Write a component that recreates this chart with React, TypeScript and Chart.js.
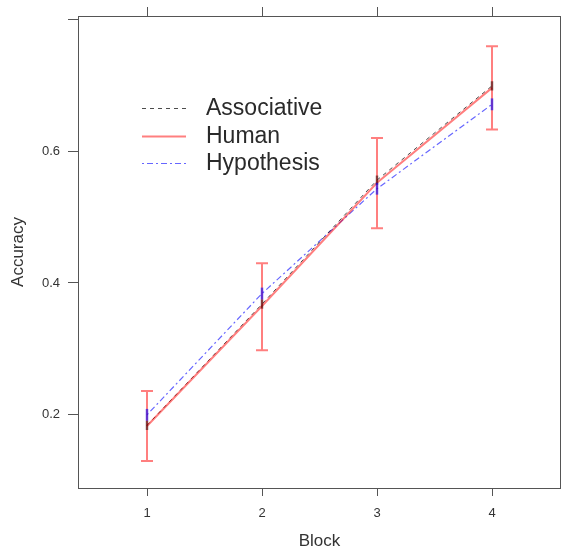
import React, { useEffect, useRef } from "react";
import { Chart, registerables } from "chart.js";

Chart.register(...registerables);

const blocks = [1, 2, 3, 4];
const humanMean = [0.183, 0.365, 0.552, 0.696];
const humanLow = [0.13, 0.298, 0.483, 0.633];
const humanHigh = [0.236, 0.43, 0.62, 0.759];
const assocMean = [0.184, 0.368, 0.556, 0.699];
const assocErr = [0.007, 0.007, 0.007, 0.007];
const hypoMean = [0.2, 0.384, 0.543, 0.671];
const hypoErr = [0.009, 0.009, 0.009, 0.009];
const xTicks = [1, 2, 3, 4];
const yTicks = [0.2, 0.4, 0.6, 0.8];
const yTickLabels = ["0.2", "0.4", "0.6", ""];
const legendLabels = ["Associative", "Human", "Hypothesis"];

const HUMAN_COLOR = "rgba(255,0,0,0.5)";
const ASSOC_COLOR = "rgba(0,0,0,0.7)";
const ASSOC_BAR = "rgba(40,0,0,0.55)";
const HYPO_COLOR = "rgba(0,0,255,0.6)";
const HYPO_BAR = "rgba(0,0,255,0.6)";
const AXIS_COLOR = "#555";
const TEXT_COLOR = "#333";
const FONT = "'Liberation Sans', Arial, Helvetica, sans-serif";

export default function App() {
  const ref = useRef<HTMLCanvasElement | null>(null);

  useEffect(() => {
    if (!ref.current) return;
    Chart.defaults.font.family = FONT;

    const pts = (ys: number[]) => blocks.map((b, i) => ({ x: b, y: ys[i] }));

    const errorBars = {
      id: "errorBars",
      afterDatasetsDraw(chart: any) {
        const { ctx, scales } = chart;
        const xs = scales.x;
        const ys = scales.y;
        ctx.save();
        ctx.strokeStyle = HUMAN_COLOR;
        ctx.lineWidth = 2;
        blocks.forEach((b, i) => {
          const px = xs.getPixelForValue(b);
          const lo = ys.getPixelForValue(humanLow[i]);
          const hi = ys.getPixelForValue(humanHigh[i]);
          ctx.beginPath();
          ctx.moveTo(px, lo);
          ctx.lineTo(px, hi);
          ctx.moveTo(px - 6, lo);
          ctx.lineTo(px + 6, lo);
          ctx.moveTo(px - 6, hi);
          ctx.lineTo(px + 6, hi);
          ctx.stroke();
        });
        const small = (mean: number[], err: number[], color: string) => {
          ctx.strokeStyle = color;
          ctx.lineWidth = 2.5;
          blocks.forEach((b, i) => {
            const px = xs.getPixelForValue(b);
            ctx.beginPath();
            ctx.moveTo(px, ys.getPixelForValue(mean[i] - err[i]));
            ctx.lineTo(px, ys.getPixelForValue(mean[i] + err[i]));
            ctx.stroke();
          });
        };
        small(assocMean, assocErr, ASSOC_BAR);
        small(hypoMean, hypoErr, HYPO_BAR);
        ctx.restore();
      },
    };

    const frameLegend = {
      id: "frameLegend",
      afterDraw(chart: any) {
        const { ctx, chartArea } = chart;
        ctx.save();
        ctx.strokeStyle = AXIS_COLOR;
        ctx.lineWidth = 1;
        const l = Math.round(chartArea.left) + 0.5;
        const t = Math.round(chartArea.top) + 0.5;
        const r = Math.round(chartArea.right) - 0.5;
        const b = Math.round(chartArea.bottom) + 0.5;
        ctx.strokeRect(l, t, r - l, b - t);

        const styles = [
          { color: ASSOC_COLOR, dash: [4, 4], width: 1 },
          { color: HUMAN_COLOR, dash: [], width: 2 },
          { color: HYPO_COLOR, dash: [2, 3, 6, 3], width: 1.2 },
        ];
        const rowY = [108, 136, 163];
        ctx.font = `23px ${FONT}`;
        ctx.textBaseline = "middle";
        ctx.textAlign = "left";
        legendLabels.forEach((lab, i) => {
          const s = styles[i];
          ctx.strokeStyle = s.color;
          ctx.lineWidth = s.width;
          ctx.setLineDash(s.dash);
          ctx.beginPath();
          ctx.moveTo(142, rowY[i] + 0.5);
          ctx.lineTo(186, rowY[i] + 0.5);
          ctx.stroke();
          ctx.setLineDash([]);
          ctx.fillStyle = "#2a2a2a";
          ctx.fillText(lab, 206, rowY[i] + 1);
        });
        ctx.restore();
      },
    };

    const chart = new Chart(ref.current, {
      type: "line",
      data: {
        datasets: [
          {
            label: "Human",
            data: pts(humanMean),
            borderColor: HUMAN_COLOR,
            borderWidth: 2,
            pointRadius: 0,
          },
          {
            label: "Associative",
            data: pts(assocMean),
            borderColor: ASSOC_COLOR,
            borderWidth: 1,
            borderDash: [4, 4],
            pointRadius: 0,
          },
          {
            label: "Hypothesis",
            data: pts(hypoMean),
            borderColor: HYPO_COLOR,
            borderWidth: 1.2,
            borderDash: [2, 3, 6, 3],
            pointRadius: 0,
          },
        ],
      },
      options: {
        responsive: false,
        animation: false,
        devicePixelRatio: 1,
        layout: { padding: { left: 0, right: 1, top: 0, bottom: 0 } },
        plugins: { legend: { display: false }, tooltip: { enabled: false } },
        scales: {
          x: {
            type: "linear",
            position: "bottom",
            min: 0.4,
            max: 4.6,
            afterBuildTicks: (s: any) => {
              s.ticks = xTicks.map((v) => ({ value: v }));
            },
            afterFit: (s: any) => {
              s.height = 62;
            },
            grid: { drawOnChartArea: false, drawTicks: true, tickLength: 8, color: AXIS_COLOR },
            border: { display: false },
            ticks: {
              color: TEXT_COLOR,
              font: { size: 13 },
              padding: 10,
              maxRotation: 0,
              callback: (v: any) => String(v),
            },
            title: {
              display: true,
              text: "Block",
              color: TEXT_COLOR,
              font: { size: 17, lineHeight: 1 },
              padding: { top: 0, bottom: 0 },
            },
          },
          x2: {
            type: "linear",
            position: "top",
            min: 0.4,
            max: 4.6,
            afterBuildTicks: (s: any) => {
              s.ticks = xTicks.map((v) => ({ value: v }));
            },
            afterFit: (s: any) => {
              s.height = 16;
            },
            grid: { drawOnChartArea: false, drawTicks: true, tickLength: 9, color: AXIS_COLOR },
            border: { display: false },
            ticks: { display: false },
          },
          y: {
            type: "linear",
            position: "left",
            min: 0.089,
            max: 0.805,
            afterBuildTicks: (s: any) => {
              s.ticks = yTicks.map((v) => ({ value: v }));
            },
            afterFit: (s: any) => {
              s.width = 78;
            },
            grid: { drawOnChartArea: false, drawTicks: true, tickLength: 10, color: AXIS_COLOR },
            border: { display: false },
            ticks: {
              color: TEXT_COLOR,
              font: { size: 13 },
              padding: 8,
              callback: (v: any) => {
                const i = yTicks.indexOf(Number(v));
                return i >= 0 ? yTickLabels[i] : "";
              },
            },
            title: {
              display: true,
              text: "Accuracy",
              color: TEXT_COLOR,
              font: { size: 17 },
              padding: { top: 8, bottom: 0 },
            },
          },
        },
      },
      plugins: [errorBars, frameLegend],
    } as any);

    return () => chart.destroy();
  }, []);

  return (
    <div style={{ position: "absolute", left: 0, top: 0, width: 562, height: 550, background: "#fff" }}>
      <canvas ref={ref} width={562} height={550} />
    </div>
  );
}
